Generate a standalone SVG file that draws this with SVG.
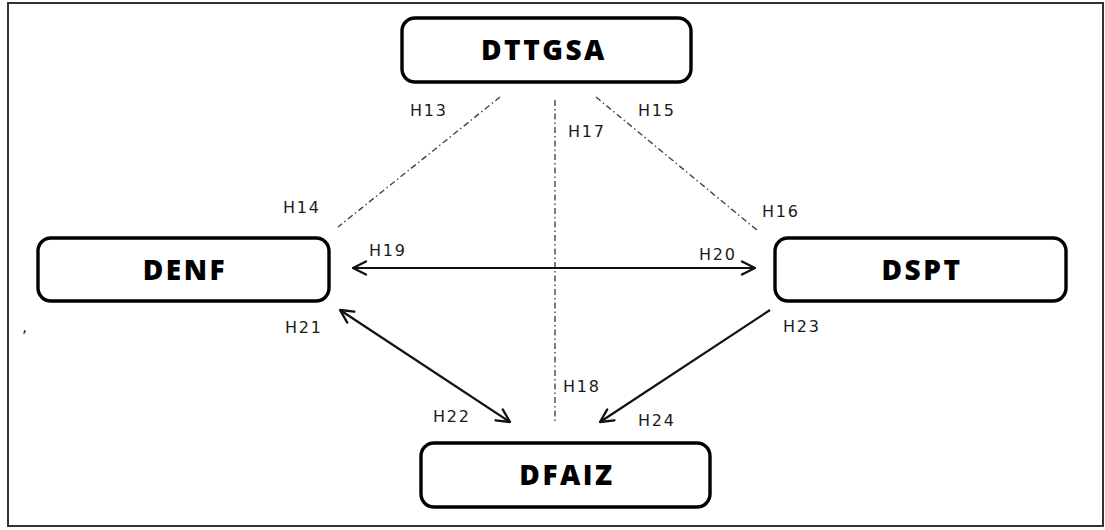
<svg xmlns="http://www.w3.org/2000/svg" width="1105" height="530" viewBox="0 0 1105 530">
  <defs>
    <marker id="arrow" viewBox="0 0 16 16" refX="15" refY="8" markerWidth="16" markerHeight="16" markerUnits="userSpaceOnUse" orient="auto-start-reverse">
      <path d="M2,1.5 L15,8 L2,14.5" fill="none" stroke="#111" stroke-width="2.3" stroke-linecap="round" stroke-linejoin="round"/>
    </marker>
    <style>
      .frame { fill: #fff; stroke: #333; stroke-width: 2; }
      .box { fill: #fff; stroke: #000; stroke-width: 3.4; }
      .title { font-family: "Open Sans", "DejaVu Sans", sans-serif; font-weight: 800; font-size: 28px; letter-spacing: 2.5px; fill: #000; text-anchor: middle; }
      .lbl { font-family: "DejaVu Sans", "Open Sans", sans-serif; font-size: 16px; letter-spacing: 1.8px; fill: #1a1a1a; }
      .dashdot { fill: none; stroke: #444; stroke-width: 1.4; stroke-dasharray: 6 3 1.5 3; }
      .arrow { fill: none; stroke: #111; stroke-width: 2.2; marker-start: url(#arrow); marker-end: url(#arrow); }
      .arrow-one { fill: none; stroke: #111; stroke-width: 2.2; marker-end: url(#arrow); }
    </style>
  </defs>

  <rect x="8" y="3" width="1095" height="523" class="frame"/>

  <g id="connectors">
    <line x1="500" y1="97" x2="338" y2="227" class="dashdot"/>
    <line x1="596" y1="97" x2="758" y2="231" class="dashdot"/>
    <line x1="555" y1="100" x2="555" y2="422" class="dashdot"/>
    <line x1="353" y1="268" x2="755" y2="268" class="arrow"/>
    <line x1="340" y1="310" x2="510" y2="422" class="arrow"/>
    <line x1="770" y1="310" x2="600" y2="422" class="arrow-one"/>
  </g>

  <g id="labels">
    <text x="410" y="116" class="lbl">H13</text>
    <text x="638" y="116" class="lbl">H15</text>
    <text x="568" y="137" class="lbl">H17</text>
    <text x="283" y="213" class="lbl">H14</text>
    <text x="762" y="217" class="lbl">H16</text>
    <text x="369" y="256" class="lbl">H19</text>
    <text x="699" y="260" class="lbl">H20</text>
    <text x="285" y="333" class="lbl">H21</text>
    <text x="783" y="332" class="lbl">H23</text>
    <text x="563" y="392" class="lbl">H18</text>
    <text x="433" y="422" class="lbl">H22</text>
    <text x="638" y="426" class="lbl">H24</text>
    <text x="22" y="332" class="lbl">,</text>
  </g>

  <g id="node-dttgsa">
    <rect x="402" y="18" width="289" height="64" rx="13" class="box"/>
    <text x="544" y="60" class="title">DTTGSA</text>
  </g>
  <g id="node-denf">
    <rect x="38" y="238" width="291" height="63" rx="13" class="box"/>
    <text x="185" y="280" class="title">DENF</text>
  </g>
  <g id="node-dspt">
    <rect x="775" y="238" width="291" height="63" rx="13" class="box"/>
    <text x="922" y="280" class="title">DSPT</text>
  </g>
  <g id="node-dfaiz">
    <rect x="421" y="443" width="289" height="64" rx="13" class="box"/>
    <text x="567" y="485" class="title">DFAIZ</text>
  </g>
</svg>
